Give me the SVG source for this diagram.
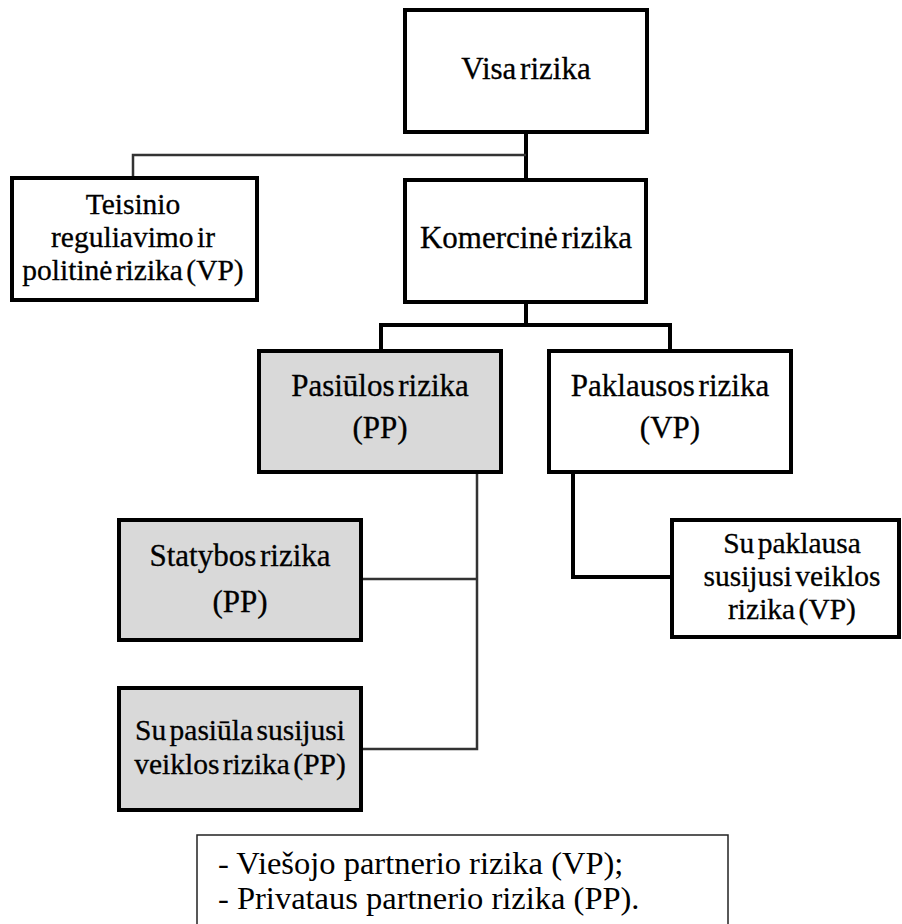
<svg xmlns="http://www.w3.org/2000/svg" width="902" height="924" viewBox="0 0 902 924">
  <style>
    .box { fill: #ffffff; stroke: #000000; stroke-width: 4; }
    .shaded { fill: #d9d9d9; }
    .lbl { font-family: "Liberation Serif", "Times New Roman", serif; font-size: 31px; fill: #000000; stroke: #000000; stroke-width: 0.3; text-anchor: middle; word-spacing: -4px; }
    .tight { font-size: 29.5px; }
    .legend { font-family: "Liberation Serif", "Times New Roman", serif; font-size: 32.5px; fill: #000000; }
    .thick { fill: none; stroke: #000000; stroke-width: 4; }
    .thin { fill: none; stroke: #333333; stroke-width: 2.5; }
  </style>
  <rect width="902" height="924" fill="#ffffff"/>

  <!-- connectors -->
  <g id="connectors">
    <polyline class="thick" points="526,132 526,180"/>
    <polyline class="thin" points="526,155 133,155 133,178"/>
    <polyline class="thick" points="526,302 526,325"/>
    <polyline class="thick" points="381,351 381,325 670,325 670,351"/>
    <polyline class="thin" points="477,472 477,749 361,749"/>
    <polyline class="thin" points="361,579 477,579"/>
    <polyline class="thick" points="573,472 573,577 672,577"/>
  </g>

  <g id="visa-rizika">
    <rect class="box" x="405" y="10" width="242" height="122"/>
    <text class="lbl" x="526" y="79">Visa rizika</text>
  </g>

  <g id="teisinio-rizika">
    <rect class="box" x="12" y="178" width="245" height="122"/>
    <text class="lbl tight" x="133" y="214">Teisinio</text>
    <text class="lbl tight" x="133" y="247">reguliavimo ir</text>
    <text class="lbl tight" x="133" y="280">politinė rizika (VP)</text>
  </g>

  <g id="komercine-rizika">
    <rect class="box" x="405" y="180" width="241" height="122"/>
    <text class="lbl" x="526" y="248">Komercinė rizika</text>
  </g>

  <g id="pasiulos-rizika">
    <rect class="box shaded" x="259" y="351" width="242" height="121"/>
    <text class="lbl" x="380" y="396">Pasiūlos rizika</text>
    <text class="lbl" x="380" y="438">(PP)</text>
  </g>

  <g id="paklausos-rizika">
    <rect class="box" x="549" y="351" width="242" height="121"/>
    <text class="lbl" x="670" y="396">Paklausos rizika</text>
    <text class="lbl" x="670" y="438">(VP)</text>
  </g>

  <g id="statybos-rizika">
    <rect class="box shaded" x="119" y="520" width="242" height="120"/>
    <text class="lbl" x="240" y="566">Statybos rizika</text>
    <text class="lbl" x="240" y="612">(PP)</text>
  </g>

  <g id="pasiulos-veiklos-rizika">
    <rect class="box shaded" x="119" y="688" width="242" height="122"/>
    <text class="lbl tight" x="240" y="740">Su pasiūla susijusi</text>
    <text class="lbl tight" x="240" y="774">veiklos rizika (PP)</text>
  </g>

  <g id="paklausos-veiklos-rizika">
    <rect class="box" x="672" y="520" width="227" height="117"/>
    <text class="lbl tight" x="792" y="553">Su paklausa</text>
    <text class="lbl tight" x="792" y="586">susijusi veiklos</text>
    <text class="lbl tight" x="792" y="619">rizika (VP)</text>
  </g>

  <g id="legend">
    <rect x="197" y="835" width="531" height="100" fill="#ffffff" stroke="#222222" stroke-width="1.5"/>
    <text class="legend" x="218" y="874">- Viešojo partnerio rizika (VP);</text>
    <text class="legend" x="218" y="909">- Privataus partnerio rizika (PP).</text>
  </g>
</svg>
